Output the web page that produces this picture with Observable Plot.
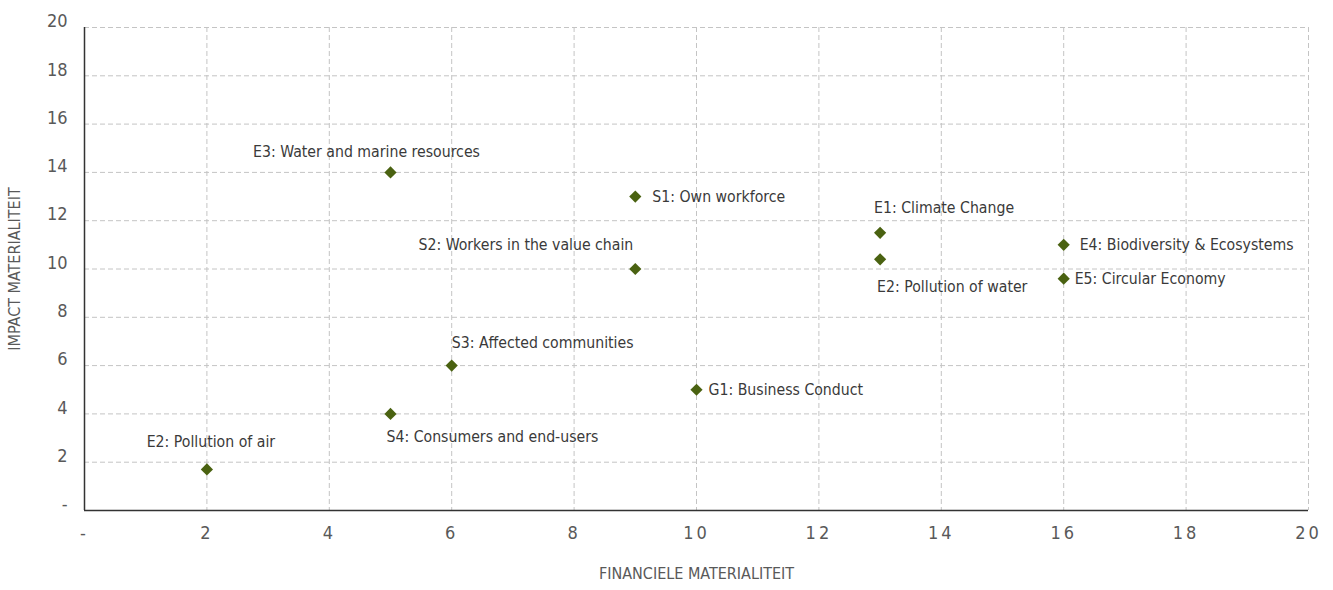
<!DOCTYPE html>
<html>
<head>
<meta charset="utf-8">
<script src="https://cdn.jsdelivr.net/npm/d3@7"></script>
<script src="https://cdn.jsdelivr.net/npm/@observablehq/plot@0.6"></script>
<style>
  html, body { margin: 0; padding: 0; background: #fff; }
  #chart svg { display: block; }
  #chart svg g[aria-label="x-axis tick label"] text { font-size: 18px !important; letter-spacing: 3px; }
  #chart svg g[aria-label="y-axis tick label"] text { font-size: 18px !important; }
  #chart svg g[aria-label="x-axis label"] text, #chart svg g[aria-label="y-axis label"] text { font-size: 16px !important; }
</style>
</head>
<body>
<div id="chart"></div>
<script>
// ---- data ----
const topics = [
  "E2: Pollution of air",
  "E3: Water and marine resources",
  "S1: Own workforce",
  "S2: Workers in the value chain",
  "S3: Affected communities",
  "S4: Consumers and end-users",
  "G1: Business Conduct",
  "E1: Climate Change",
  "E2: Pollution of water",
  "E4: Biodiversity & Ecosystems",
  "E5: Circular Economy"
];
const financial = [2, 5, 9, 9, 6, 5, 10, 13, 13, 16, 16];
const impact = [1.7, 14, 13, 10, 6, 4, 5, 11.5, 10.4, 11, 9.6];
const tickValues = [0, 2, 4, 6, 8, 10, 12, 14, 16, 18, 20];

// ---- label placement (layout) ----
const placement = [
  {anchor: "middle", dx: 4, dy: -27},
  {anchor: "middle", dx: -24, dy: -20},
  {anchor: "start", dx: 17, dy: 0},
  {anchor: "end", dx: -2, dy: -24},
  {anchor: "start", dx: 0, dy: -23},
  {anchor: "start", dx: -4, dy: 23},
  {anchor: "start", dx: 12, dy: 0},
  {anchor: "start", dx: -6, dy: -25},
  {anchor: "start", dx: -3, dy: 28},
  {anchor: "start", dx: 16, dy: 0},
  {anchor: "start", dx: 11, dy: 0}
];

const data = topics.map((t, i) => ({topic: t, x: financial[i], y: impact[i], ...placement[i]}));

const font = "'DejaVu Sans Condensed', 'Liberation Sans Narrow', 'Roboto', sans-serif";
const fmt = d => d === 0 ? "-" : String(d);

const chart = Plot.plot({
  width: 1333,
  height: 590,
  marginTop: 27,
  marginLeft: 84,
  marginRight: 25,
  marginBottom: 80,
  style: {fontFamily: font, fontSize: "15px", color: "#595959", background: "#fff"},
  x: {domain: [0, 20]},
  y: {domain: [0, 20]},
  marks: [
    Plot.gridX(tickValues.slice(1), {stroke: "#c4c4c4", strokeOpacity: 1, strokeDasharray: "5,3"}),
    Plot.gridY(tickValues.slice(1), {stroke: "#c4c4c4", strokeOpacity: 1, strokeDasharray: "5,3"}),
    Plot.axisX({ticks: tickValues, tickFormat: fmt, tickSize: 0, tickPadding: 16, label: "FINANCIELE MATERIALITEIT", labelAnchor: "center", labelArrow: false, labelOffset: 68, color: "#595959"}),
    Plot.axisY({ticks: tickValues, tickFormat: fmt, tickSize: 0, tickPadding: 17, dy: -6, label: "IMPACT MATERIALITEIT", labelAnchor: "center", labelArrow: false, labelOffset: 76, color: "#595959"}),
    Plot.ruleX([0], {stroke: "#333", strokeWidth: 1.5}),
    Plot.ruleY([0], {stroke: "#333", strokeWidth: 1.5}),
    ...data.map(d => Plot.text([d], {
      x: "x", y: "y", text: "topic",
      textAnchor: d.anchor, dx: d.dx, dy: d.dy,
      fill: "#3a3a3a", fontSize: 15.7, fontFamily: font
    })),
    Plot.dot(data, {x: "x", y: "y", symbol: "diamond2", r: 5.5, fill: "#4a6211", stroke: "none"})
  ]
});

document.getElementById("chart").appendChild(chart);
</script>
</body>
</html>
